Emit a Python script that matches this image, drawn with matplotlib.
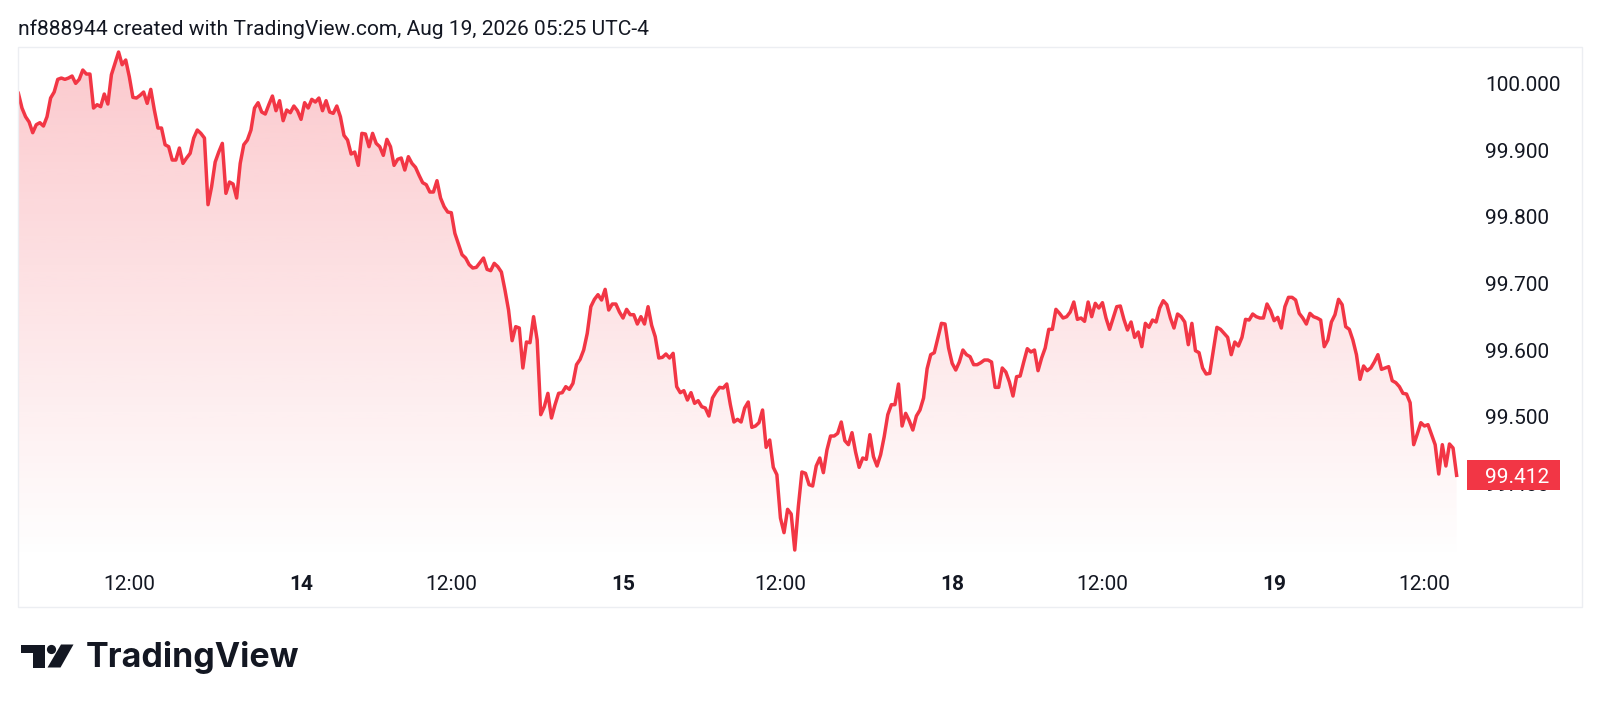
import numpy as np
import matplotlib.pyplot as plt
import matplotlib.transforms as mtransforms
from matplotlib.patches import Rectangle, Polygon, Circle

# 15-minute closes
close = [
    99.985, 99.963, 99.950, 99.942, 99.926, 99.938, 99.941, 99.936, 99.950, 99.978,
    99.987, 100.006, 100.008, 100.006, 100.008, 100.011, 100.000, 100.006, 100.020, 100.014,
    100.014, 99.963, 99.968, 99.965, 99.984, 99.969, 100.013, 100.030, 100.047, 100.028,
    100.035, 100.010, 99.979, 99.978, 99.982, 99.987, 99.970, 99.991, 99.960, 99.933,
    99.933, 99.908, 99.905, 99.885, 99.885, 99.903, 99.880, 99.888, 99.895, 99.918,
    99.930, 99.925, 99.918, 99.818, 99.845, 99.882, 99.897, 99.910, 99.835, 99.852,
    99.849, 99.828, 99.880, 99.908,
    99.915, 99.930, 99.963, 99.971, 99.957, 99.954, 99.968, 99.981, 99.959, 99.974,
    99.944, 99.960, 99.956, 99.966, 99.959, 99.946, 99.971, 99.963, 99.976, 99.972,
    99.978, 99.959, 99.974, 99.957, 99.955, 99.966, 99.950, 99.922, 99.915, 99.894,
    99.897, 99.877, 99.925, 99.924, 99.905, 99.925, 99.910, 99.905, 99.892, 99.916,
    99.905, 99.877, 99.886, 99.888, 99.870, 99.890, 99.880, 99.874, 99.862, 99.851,
    99.848, 99.837, 99.837, 99.854, 99.828, 99.815, 99.807, 99.806, 99.775, 99.759,
    99.743, 99.738, 99.728, 99.723, 99.724, 99.731, 99.738, 99.721, 99.719, 99.730,
    99.725,
    99.717, 99.690, 99.660, 99.614, 99.635, 99.633, 99.573, 99.612, 99.611, 99.650,
    99.615, 99.503, 99.515, 99.535, 99.498, 99.518, 99.535, 99.536, 99.545, 99.541,
    99.550, 99.578, 99.586, 99.600, 99.625, 99.665, 99.676, 99.683, 99.675, 99.691,
    99.660, 99.669, 99.669, 99.657, 99.648, 99.661, 99.653, 99.653, 99.639, 99.650,
    99.639, 99.665, 99.637, 99.620, 99.588, 99.589, 99.594, 99.588, 99.595, 99.545,
    99.536, 99.539, 99.525, 99.536, 99.520, 99.524, 99.515, 99.513, 99.501, 99.528,
    99.537, 99.544, 99.543, 99.549,
    99.518, 99.492, 99.496, 99.492, 99.513, 99.522, 99.484, 99.486, 99.491, 99.510,
    99.454, 99.465, 99.424, 99.413, 99.348, 99.326, 99.361, 99.354, 99.300, 99.365,
    99.417, 99.415, 99.398, 99.396, 99.426, 99.438, 99.416, 99.450, 99.471, 99.471,
    99.475, 99.492, 99.464, 99.458, 99.476, 99.447, 99.424, 99.438, 99.436, 99.473,
    99.440, 99.426, 99.443, 99.470, 99.503, 99.518, 99.518, 99.549, 99.486, 99.505,
    99.494, 99.480, 99.501, 99.510, 99.528, 99.572,
    99.593, 99.596, 99.618, 99.640, 99.639, 99.603, 99.580, 99.570, 99.582, 99.600,
    99.593, 99.590, 99.578, 99.578, 99.581, 99.585, 99.585, 99.582, 99.544, 99.544,
    99.573, 99.567, 99.552, 99.531, 99.560, 99.561, 99.582, 99.602, 99.597, 99.600,
    99.569, 99.588, 99.603, 99.631, 99.631, 99.661, 99.655, 99.648, 99.650, 99.657,
    99.672, 99.646, 99.648, 99.643, 99.672, 99.650, 99.670, 99.663, 99.671, 99.648,
    99.631, 99.648, 99.665, 99.666, 99.646, 99.630, 99.642, 99.619, 99.627, 99.605,
    99.640, 99.634, 99.645, 99.642, 99.663, 99.674, 99.668,
    99.648, 99.633, 99.654, 99.650, 99.642, 99.608, 99.640, 99.599, 99.596, 99.573,
    99.564, 99.565, 99.600, 99.634, 99.631, 99.625, 99.619, 99.593, 99.612, 99.606,
    99.619, 99.646, 99.645, 99.654, 99.650, 99.648, 99.648, 99.669, 99.659, 99.644,
    99.649, 99.633, 99.665, 99.679, 99.679, 99.675, 99.655, 99.648, 99.639, 99.655,
    99.650, 99.648, 99.645, 99.605, 99.615, 99.642, 99.653, 99.676, 99.668, 99.635,
    99.631, 99.615, 99.593, 99.556, 99.576, 99.569, 99.573, 99.582, 99.593, 99.571,
    99.573, 99.575, 99.554, 99.551, 99.545, 99.535, 99.534, 99.521, 99.458, 99.474,
    99.491, 99.486, 99.488, 99.473, 99.458, 99.414, 99.458, 99.426, 99.459, 99.453,
    99.412,
]

tick_pos = [31, 79, 121, 169, 213, 261, 303, 351, 393]
tick_labels = ['12:00', '14', '12:00', '15', '12:00', '18', '12:00', '19', '12:00']
price_ticks = [99.4, 99.5, 99.6, 99.7, 99.8, 99.9, 100.0]
header = 'nf888944 created with TradingView.com, Aug 19, 2026 05:25 UTC-4'

W, H = 1600, 712
RED = '#F23645'
TXT = '#131722'

plt.rcParams['font.family'] = ['Roboto', 'DejaVu Sans']

fig = plt.figure(figsize=(W / 100, H / 100), dpi=100)
fig.patch.set_facecolor('white')


def px_box(x0, y0, x1, y1):
    # pixel box (from top-left) -> figure fraction rect
    return [x0 / W, 1 - y1 / H, (x1 - x0) / W, (y1 - y0) / H]


ax = fig.add_axes(px_box(18.4, 46.7, 1467, 560))
x = np.arange(len(close))
y = np.array(close)
ymin, ymax = 99.285, 100.055

# area with a vertical fade
fill = ax.fill_between(x, y, ymin, facecolor='none', edgecolor='none')
grad = np.zeros((256, 1, 4))
grad[..., 0] = 242 / 255
grad[..., 1] = 54 / 255
grad[..., 2] = 69 / 255
grad[:, 0, 3] = np.linspace(0.0, 0.27, 256)
im = ax.imshow(grad, extent=[x[0], x[-1], ymin, y.max()], origin='lower',
               aspect='auto', zorder=1, interpolation='bilinear')
im.set_clip_path(fill.get_paths()[0], transform=ax.transData)

ax.plot(x, y, color=RED, lw=2.5, zorder=3, solid_joinstyle='round')

ax.set_xlim(0, 404.9)
ax.set_ylim(ymin, ymax)
for s in ax.spines.values():
    s.set_visible(False)
ax.set_facecolor('none')

ax.set_xticks(tick_pos, tick_labels)
ax.tick_params(axis='x', length=0, pad=11, labelsize=15, labelcolor=TXT)
for lbl in ax.get_xticklabels():
    if ':' not in lbl.get_text():
        lbl.set_fontweight('bold')

ax.yaxis.tick_right()
ax.set_yticks(price_ticks, ['%.3f' % v for v in price_ticks])
ax.tick_params(axis='y', length=0, pad=13, labelsize=15, labelcolor=TXT)

# overlay in pixel coordinates for frame, header, logo, price tag
ov = fig.add_axes([0, 0, 1, 1])
ov.set_xlim(0, W)
ov.set_ylim(H, 0)
ov.axis('off')

ov.add_patch(Rectangle((18.4, 46.7), 1582 - 18.4, 606.7 - 46.7, fill=False,
                       ec='#eceef2', lw=1))
ov.text(17.7, 34.7, header, fontsize=15.1, color=TXT, va='baseline', ha='left')

# TradingView logo
ov.add_patch(Polygon([(20.5, 644.5), (44.5, 644.5), (44.5, 667.5), (32.5, 667.5),
                      (32.5, 652.5), (20.5, 652.5)], closed=True, fc=TXT, ec='none'))
ov.add_patch(Circle((51.5, 649.5), 4.6, fc=TXT, ec='none'))
ov.add_patch(Polygon([(61, 644.5), (73.5, 644.5), (60.5, 667.5), (47.5, 667.5)],
                     closed=True, fc=TXT, ec='none'))
ov.text(86, 667.5, 'TradingView', family=['Inter', 'DejaVu Sans'], fontweight='bold',
        fontsize=24.5, color=TXT, va='baseline', ha='left')

# last price tag on the price scale
tag = mtransforms.blended_transform_factory(ov.transData, ax.transData)
last = close[-1]
ov.add_patch(Rectangle((1467, last - 0.0223), 93, 0.0446, transform=tag,
                       fc=RED, ec='none', zorder=5))
ov.text(1485, last, '%.3f' % last, transform=tag, color='white', fontsize=15,
        va='center_baseline', ha='left', zorder=6)

fig.savefig('out.png', dpi=100, facecolor='white')
